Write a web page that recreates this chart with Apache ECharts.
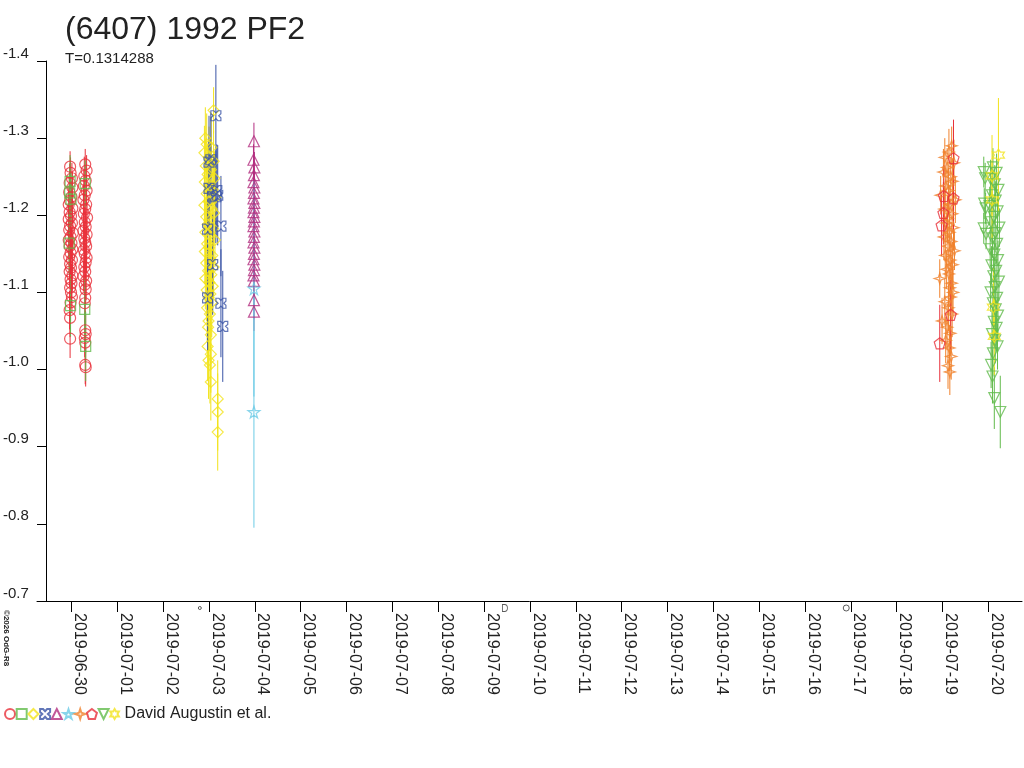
<!DOCTYPE html>
<html><head><meta charset="utf-8">
<script src="https://cdn.jsdelivr.net/npm/echarts@6/dist/echarts.min.js"></script>
<style>html,body{margin:0;padding:0;background:#fff}#c{width:1024px;height:768px}</style>
</head><body><div id="c"></div>
<script>
// x values: days since 2019-06-30 00:00 UT; y: magnitude; third value: error
const dateLabels = ['2019-06-30','2019-07-01','2019-07-02','2019-07-03','2019-07-04','2019-07-05','2019-07-06','2019-07-07','2019-07-08','2019-07-09','2019-07-10','2019-07-11','2019-07-12','2019-07-13','2019-07-14','2019-07-15','2019-07-16','2019-07-17','2019-07-18','2019-07-19','2019-07-20'];
const yTicks = [-1.4,-1.3,-1.2,-1.1,-1.0,-0.9,-0.8,-0.7];

const redCircles = [
[-0.03,-1.263,0.02],[-0.02,-1.255,0.02],[0.01,-1.248,0.02],[-0.04,-1.242,0.025],[0.02,-1.236,0.02],[-0.05,-1.230,0.02],[0.00,-1.224,0.02],[-0.03,-1.219,0.025],[-0.06,-1.214,0.02],[0.02,-1.209,0.02],[-0.04,-1.204,0.02],[-0.01,-1.199,0.025],[-0.06,-1.195,0.02],[0.01,-1.190,0.02],[-0.03,-1.186,0.025],[-0.05,-1.181,0.02],[0.03,-1.177,0.02],[-0.02,-1.172,0.02],[-0.06,-1.168,0.025],[0.00,-1.164,0.02],[-0.04,-1.160,0.02],[0.02,-1.156,0.02],[-0.02,-1.151,0.025],[-0.05,-1.146,0.02],[0.01,-1.142,0.02],[-0.03,-1.137,0.02],[-0.01,-1.132,0.025],[-0.04,-1.127,0.02],[0.02,-1.122,0.02],[-0.02,-1.117,0.02],[0.00,-1.112,0.025],[-0.03,-1.106,0.02],[-0.01,-1.100,0.02],[0.01,-1.094,0.02],[-0.02,-1.087,0.025],[-0.04,-1.077,0.025],[-0.03,-1.067,0.025],[-0.03,-1.040,0.025],
[0.30,-1.266,0.02],[0.33,-1.258,0.02],[0.28,-1.251,0.025],[0.31,-1.245,0.02],[0.27,-1.238,0.02],[0.33,-1.232,0.02],[0.29,-1.226,0.025],[0.26,-1.220,0.02],[0.32,-1.214,0.02],[0.30,-1.208,0.02],[0.27,-1.202,0.025],[0.34,-1.197,0.02],[0.29,-1.191,0.02],[0.31,-1.185,0.02],[0.26,-1.180,0.025],[0.33,-1.175,0.02],[0.28,-1.170,0.02],[0.30,-1.165,0.02],[0.32,-1.160,0.025],[0.27,-1.155,0.02],[0.29,-1.150,0.02],[0.33,-1.145,0.02],[0.31,-1.139,0.025],[0.28,-1.133,0.02],[0.30,-1.127,0.02],[0.26,-1.121,0.02],[0.32,-1.115,0.025],[0.29,-1.110,0.02],[0.31,-1.104,0.02],[0.30,-1.093,0.025],[0.29,-1.086,0.025],[0.30,-1.051,0.025],[0.31,-1.046,0.025],[0.29,-1.041,0.025],[0.30,-1.035,0.025],[0.30,-1.006,0.025],[0.31,-1.003,0.025]
];
const greenSquares = [[-0.03,-1.244,0.034],[-0.04,-1.229,0.03],[-0.01,-1.221,0.035],[-0.05,-1.164,0.04],[-0.02,-1.083,0.04],[0.30,-1.241,0.03],[0.29,-1.078,0.04],[0.31,-1.030,0.045]];
const yellowDiamonds = [
[2.92,-1.300,0.04],[2.95,-1.292,0.04],[3.05,-1.288,0.04],[2.90,-1.281,0.035],[3.00,-1.275,0.04],[3.10,-1.270,0.04],[2.93,-1.264,0.035],[3.04,-1.259,0.04],[2.97,-1.253,0.04],[3.12,-1.248,0.035],[2.91,-1.243,0.04],[3.02,-1.238,0.04],[3.08,-1.233,0.04],[2.95,-1.228,0.035],[3.14,-1.223,0.04],[2.99,-1.218,0.04],[2.90,-1.213,0.04],[3.06,-1.208,0.035],[3.11,-1.203,0.04],[2.94,-1.198,0.04],[3.01,-1.193,0.04],[2.97,-1.188,0.035],[3.09,-1.183,0.04],[2.92,-1.178,0.04],[3.04,-1.173,0.04],[3.13,-1.168,0.035],[2.96,-1.163,0.04],[3.00,-1.158,0.04],[2.91,-1.153,0.04],[3.07,-1.148,0.035],[3.03,-1.143,0.04],[2.94,-1.138,0.04],[3.10,-1.133,0.04],[2.98,-1.128,0.035],[3.05,-1.123,0.04],[2.92,-1.118,0.04],[3.01,-1.113,0.04],[3.08,-1.108,0.035],[2.95,-1.103,0.04],[3.03,-1.098,0.04],[2.99,-1.093,0.04],[3.06,-1.087,0.045],[2.96,-1.080,0.045],[3.02,-1.072,0.045],[2.99,-1.063,0.045],[2.98,-1.055,0.045],[3.04,-1.045,0.045],[2.97,-1.030,0.045],[3.04,-1.020,0.05],[2.99,-1.012,0.05],[3.02,-1.006,0.05],[3.04,-0.984,0.05],[3.19,-0.962,0.05],[3.19,-0.945,0.05],[3.19,-0.919,0.05],[3.10,-1.336,0.03]
];
const blueStars4 = [[3.15,-1.329,0.066],[3.04,-1.272,0.06],[3.00,-1.269,0.06],[3.00,-1.235,0.06],[3.17,-1.232,0.06],[3.19,-1.226,0.065],[3.15,-1.224,0.06],[3.26,-1.186,0.065],[2.97,-1.182,0.06],[3.08,-1.136,0.065],[2.97,-1.093,0.068],[3.26,-1.086,0.07],[3.30,-1.056,0.072]];
const magentaTriangles = [[3.98,-1.296,0.024],[3.97,-1.272,0.02],[3.99,-1.262,0.02],[3.98,-1.252,0.02],[3.97,-1.243,0.02],[3.99,-1.236,0.02],[3.98,-1.229,0.02],[3.97,-1.222,0.02],[3.99,-1.216,0.02],[3.98,-1.210,0.02],[3.97,-1.204,0.02],[3.99,-1.198,0.02],[3.98,-1.192,0.02],[3.97,-1.186,0.02],[3.99,-1.179,0.02],[3.98,-1.172,0.02],[3.97,-1.165,0.02],[3.99,-1.158,0.02],[3.98,-1.150,0.02],[3.97,-1.143,0.02],[3.99,-1.136,0.02],[3.98,-1.129,0.02],[3.97,-1.122,0.02],[3.98,-1.115,0.02],[3.98,-1.090,0.025],[3.98,-1.075,0.025]];
const cyanStars = [[3.98,-1.105,0.14],[3.98,-0.945,0.15]];
const orangeStars4 = [
[19.20,-1.290,0.025],[19.14,-1.282,0.03],[19.05,-1.275,0.025],[19.25,-1.268,0.03],[19.10,-1.262,0.025],[19.02,-1.256,0.03],[19.18,-1.250,0.025],[19.22,-1.244,0.03],[19.07,-1.238,0.025],[19.13,-1.232,0.03],[18.96,-1.226,0.025],[19.28,-1.220,0.03],[19.16,-1.214,0.025],[19.04,-1.208,0.03],[19.21,-1.202,0.025],[19.11,-1.196,0.03],[19.08,-1.190,0.025],[19.24,-1.184,0.03],[19.15,-1.178,0.025],[19.03,-1.172,0.03],[19.19,-1.166,0.025],[19.12,-1.160,0.03],[19.26,-1.154,0.025],[19.06,-1.148,0.03],[19.17,-1.142,0.025],[19.22,-1.136,0.03],[19.09,-1.130,0.025],[19.14,-1.124,0.03],[18.94,-1.118,0.025],[19.20,-1.112,0.03],[19.16,-1.106,0.025],[19.23,-1.100,0.03],[19.18,-1.094,0.03],[19.05,-1.088,0.03],[19.13,-1.080,0.03],[19.21,-1.072,0.03],[18.99,-1.063,0.03],[19.10,-1.055,0.03],[19.17,-1.047,0.03],[19.07,-1.038,0.03],[19.15,-1.028,0.03],[19.19,-1.017,0.03],[19.12,-1.005,0.03],[19.16,-0.997,0.03]
];
const redPentagons = [[19.24,-1.274,0.05],[19.03,-1.225,0.04],[19.24,-1.222,0.04],[19.02,-1.203,0.04],[18.98,-1.187,0.04],[19.18,-1.071,0.045],[18.94,-1.034,0.05]];
const greenInvTriangles = [
[19.90,-1.256,0.02],[19.93,-1.248,0.02],[19.91,-1.215,0.02],[19.94,-1.209,0.02],[19.90,-1.183,0.02],[19.95,-1.176,0.02],
[20.10,-1.262,0.025],[20.18,-1.255,0.025],[20.05,-1.247,0.025],[20.14,-1.240,0.025],[20.22,-1.233,0.025],[20.08,-1.226,0.025],[20.16,-1.219,0.025],[20.03,-1.212,0.025],[20.20,-1.205,0.025],[20.12,-1.198,0.025],[20.06,-1.191,0.025],[20.24,-1.184,0.025],[20.15,-1.177,0.025],[20.09,-1.170,0.025],[20.19,-1.163,0.025],[20.04,-1.156,0.025],[20.13,-1.149,0.025],[20.21,-1.142,0.025],[20.07,-1.135,0.025],[20.17,-1.128,0.025],[20.11,-1.121,0.025],[20.23,-1.114,0.025],[20.14,-1.107,0.025],[20.05,-1.100,0.025],[20.19,-1.093,0.025],[20.10,-1.086,0.025],[20.16,-1.078,0.03],[20.21,-1.070,0.03],[20.12,-1.062,0.03],[20.18,-1.054,0.03],[20.08,-1.046,0.03],[20.15,-1.038,0.03],[20.20,-1.030,0.03],[20.10,-1.021,0.03],[20.06,-1.006,0.03],[20.09,-0.991,0.035],[20.13,-0.963,0.04],[20.26,-0.945,0.047]
];
const yellowStars6 = [[20.22,-1.278,0.074],[20.08,-1.251,0.053],[20.08,-1.220,0.05],[20.11,-1.081,0.05],[20.13,-1.043,0.05]];
const moonPhases = [[2.80,-0.7],[9.455,-0.7],[16.90,-0.7]];

const groups = [
  {name:'s1', data:redCircles, color:'#e8313b', symbol:'circle', size:11},
  {name:'s2', data:greenSquares, color:'#62bb4c', symbol:'rect', size:10},
  {name:'s3', data:yellowDiamonds, color:'#f2e31c', symbol:'diamond', size:11},
  {name:'s4', data:blueStars4, color:'#3a54a6', symbol:'path://M0,0 L30,0 L50,22 L70,0 L100,0 L100,30 L78,50 L100,70 L100,100 L70,100 L50,78 L30,100 L0,100 L0,70 L22,50 L0,30 Z', size:10},
  {name:'s5', data:magentaTriangles, color:'#b32e80', symbol:'triangle', size:11},
  {name:'s6', data:cyanStars, color:'#6ccbe6', symbol:'path://M50,0 L61,35 L98,35 L68,57 L79,91 L50,70 L21,91 L32,57 L2,35 L39,35 Z', size:12},
  {name:'s7', data:orangeStars4, color:'#f0822d', symbol:'path://M50,0 L62,38 L100,50 L62,62 L50,100 L38,62 L0,50 L38,38 Z', size:11},
  {name:'s8', data:redPentagons, color:'#e8313b', symbol:'path://M50,0 L100,38 L81,100 L19,100 L0,38 Z', size:11},
  {name:'s9', data:greenInvTriangles, color:'#62bb4c', symbol:'path://M0,0 L100,0 L50,100 Z', size:11},
  {name:'David Augustin et al.', data:yellowStars6, color:'#f2e31c', symbol:'path://M50,0 L64,25 L93,25 L79,50 L93,75 L64,75 L50,100 L36,75 L7,75 L21,50 L7,25 L36,25 Z', size:12}
];

const series = [];
groups.forEach(g => {
  series.push({
    type:'custom', name:g.name+'_err', data:g.data, encode:{x:0,y:1}, silent:true,
    renderItem:(params, api) => {
      const x = api.value(0), y = api.value(1), e = api.value(2);
      const p1 = api.coord([x, y - e]), p2 = api.coord([x, y + e]);
      return {type:'line', shape:{x1:p1[0], y1:p1[1], x2:p2[0], y2:p2[1]}, style:{stroke:g.color, lineWidth:1}};
    }
  });
  series.push({
    type:'scatter', name:g.name, data:g.data.map(d => [d[0], d[1]]), symbol:g.symbol, symbolSize:g.size,
    itemStyle:{color:'rgba(255,255,255,0)', borderColor:g.color, borderWidth:1.2}, silent:true
  });
});
series.push({
  type:'scatter', name:'moon', data:moonPhases, clip:false, silent:true,
  symbol:(v, p) => ['circle','path://M0,0 L40,0 C110,0 110,100 40,100 L0,100 Z','circle'][p.dataIndex],
  symbolSize:(v, p) => [[3,3],[5,7],[6,6]][p.dataIndex],
  symbolOffset:[0,7],
  itemStyle:{color:'rgba(255,255,255,0)', borderColor:'#333', borderWidth:1}
});

const chart = echarts.init(document.getElementById('c'));
chart.setOption({
  animation:false,
  backgroundColor:'#fff',
  textStyle:{fontFamily:'Liberation Sans, Arial, sans-serif'},
  title:[
    {text:'(6407) 1992 PF2', left:65, top:14, padding:0, textStyle:{fontSize:32, fontWeight:'normal', color:'#222', fontFamily:'Liberation Sans'}},
    {text:'T=0.1314288', left:65, top:51, padding:0, textStyle:{fontSize:15, fontWeight:'normal', color:'#222', fontFamily:'Liberation Sans'}}
  ],
  legend:{
    data:groups.map(g => g.name), left:4, top:706, padding:0, itemWidth:10, itemHeight:10, itemGap:-0.3,
    formatter:name => name === 'David Augustin et al.' ? name : '',
    textStyle:{fontSize:16, color:'#222', fontFamily:'Liberation Sans'}, selectedMode:false
  },
  grid:{left:36, right:2, top:61, bottom:167, containLabel:false},
  xAxis:{
    type:'value', min:-0.752, max:20.734,
    axisLine:{onZero:false, lineStyle:{color:'#000', width:1}},
    axisTick:{length:11, lineStyle:{color:'#000'}, customValues:dateLabels.map((d,i) => i)},
    axisLabel:{customValues:dateLabels.map((d,i) => i), formatter:v => dateLabels[Math.round(v)] || '',
      rotate:-90, align:'left', verticalAlign:'bottom', margin:12, fontSize:16, color:'#222', fontFamily:'Liberation Sans'},
    splitLine:{show:false}
  },
  yAxis:{
    type:'value', inverse:true, min:-1.4, max:-0.7, offset:-9,
    axisLine:{show:true, onZero:false, lineStyle:{color:'#000', width:1}},
    axisTick:{show:true, length:9, lineStyle:{color:'#000'}, customValues:yTicks},
    axisLabel:{customValues:yTicks, formatter:v => v.toFixed(1), align:'left', verticalAlign:'bottom', margin:43,
      fontSize:15, color:'#222', fontFamily:'Liberation Sans'},
    splitLine:{show:false}
  },
  graphic:[{type:'text', x:2, y:610, rotation:-Math.PI/2,
    style:{text:'©2026 OdG-R8', fontSize:8, fontWeight:'bold', fill:'#222', fontFamily:'Liberation Sans', textAlign:'left', textVerticalAlign:'bottom'}}],
  series:series
});
</script></body></html>
